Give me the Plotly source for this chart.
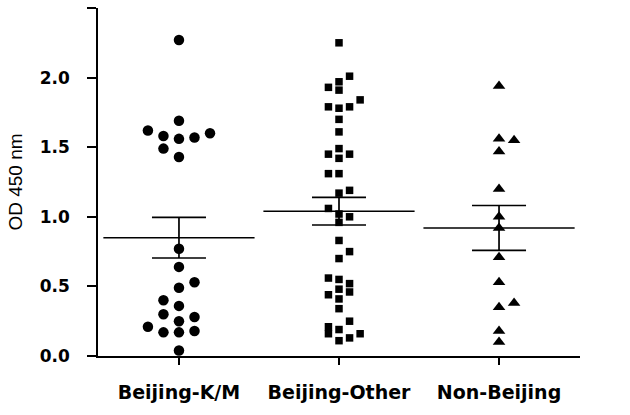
import plotly.graph_objects as go

# ---- data ----
categories = ["Beijing-K/M", "Beijing-Other", "Non-Beijing"]

values_km = [2.27, 1.69, 1.62, 1.58, 1.56, 1.57, 1.60, 1.49, 1.43,
             0.77, 0.64, 0.53, 0.49, 0.40, 0.36, 0.30, 0.25, 0.28,
             0.21, 0.17, 0.17, 0.18, 0.04]
slots_km = [0, 0, -2, -1, 0, 1, 2, -1, 0,
            0, 0, 1, 0, -1, 0, -1, 0, 1,
            -2, -1, 0, 1, 0]

values_other = [2.25, 2.01, 1.97, 1.93, 1.91, 1.84, 1.79, 1.78, 1.79, 1.70,
                1.61, 1.49, 1.45, 1.42, 1.45, 1.31, 1.31, 1.19, 1.17, 1.06,
                1.02, 1.00, 0.96, 0.83, 0.75, 0.70, 0.56, 0.55, 0.52, 0.48,
                0.46, 0.44, 0.41, 0.34, 0.25, 0.21, 0.19, 0.16, 0.16, 0.13,
                0.11]
slots_other = [0, 1, 0, -1, 0, 2, -1, 0, 1, 0,
               0, 0, -1, 0, 1, -1, 0, 1, 0, -1,
               0, 1, 0, 0, 1, 0, -1, 0, 1, 0,
               1, -1, 0, 0, 1, -1, 0, -1, 2, 1,
               0]

values_non = [1.94, 1.56, 1.55, 1.47, 1.20, 1.00, 0.92, 0.71, 0.53,
              0.38, 0.35, 0.18, 0.10]
slots_non = [0, 0, 1, 0, 0, 0, 0, 0, 0, 1, 0, 0, 0]

means = [0.85, 1.04, 0.92]
sems = [0.146, 0.099, 0.161]

y_ticks = [0.0, 0.5, 1.0, 1.5, 2.0, 2.5]

# ---- styling ----
groups = [
    (values_km, slots_km, "circle", 10.5, 0.097),
    (values_other, slots_other, "square", 7.5, 0.066),
    (values_non, slots_non, "triangle-up", 11, 0.094),
]

fig = go.Figure()
for i, (vals, slots, sym, size, spacing) in enumerate(groups):
    fig.add_trace(go.Scatter(
        x=[i + s * spacing for s in slots],
        y=vals,
        mode="markers",
        marker=dict(symbol=sym, size=size, color="black", line=dict(width=0)),
        showlegend=False,
        hoverinfo="y",
    ))

fig.add_trace(go.Scatter(
    x=list(range(len(categories))),
    y=means,
    mode="markers",
    marker=dict(symbol="line-ew", size=108, color="black",
                line=dict(width=1.5, color="black")),
    error_y=dict(type="data", array=sems, color="black", thickness=1.7, width=27),
    showlegend=False,
    hoverinfo="y",
))

fig.update_layout(
    width=630, height=415,
    margin=dict(l=98, r=50, t=8, b=59),
    paper_bgcolor="white", plot_bgcolor="white",
    xaxis=dict(
        range=[-0.506, 2.506],
        tickvals=list(range(len(categories))),
        ticktext=categories,
        showline=True, linecolor="black", linewidth=1.5,
        ticks="outside", ticklen=7, tickwidth=1.5, tickcolor="black",
        showgrid=False, zeroline=False,
        tickfont=dict(family="DejaVu Sans", size=19, color="black", weight="bold"),
        ticklabelstandoff=11,
    ),
    yaxis=dict(
        range=[0, 2.5],
        tickvals=y_ticks,
        tickformat=".1f",
        showline=True, linecolor="black", linewidth=1.5,
        ticks="outside", ticklen=9, tickwidth=1.5, tickcolor="black",
        showgrid=False, zeroline=False,
        tickfont=dict(family="DejaVu Sans", size=17, color="black", weight="bold"),
        ticklabelstandoff=14,
        title=dict(text="OD 450 nm",
                   font=dict(family="Liberation Sans", size=19, color="black"),
                   standoff=12),
    ),
)

fig.write_html("out.html")
